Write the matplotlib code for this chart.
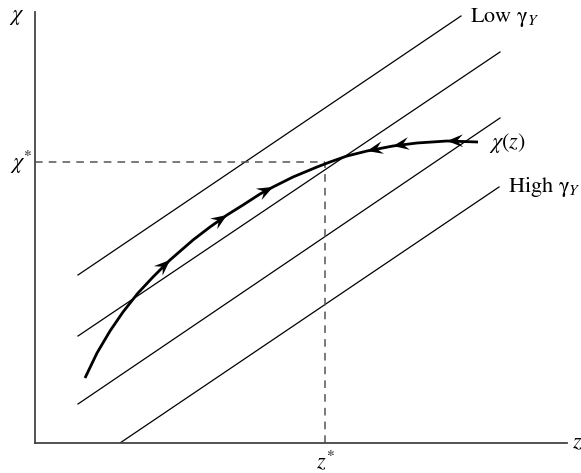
import numpy as np
import matplotlib
matplotlib.use('Agg')
import matplotlib.pyplot as plt
from matplotlib.patches import Polygon

plt.rcParams['font.family'] = 'serif'
plt.rcParams['font.serif'] = ['STIXGeneral', 'DejaVu Serif']
plt.rcParams['mathtext.fontset'] = 'stix'

# chi(z) curve (x = z, y = chi)
curve_z = [50, 62, 75, 88, 103, 118, 135, 158, 175, 192, 208, 225, 238, 258, 282, 295, 312, 332, 358, 382, 412, 443]
curve_chi = [65, 90, 112, 131, 150, 166, 183, 203, 216, 228, 238, 249, 256, 266, 276, 281, 287, 292, 297, 300, 302, 301]

# arrow heads: curve index, +1 = pointing right, -1 = pointing left
arrow_idx = [6, 9, 12, 17, 18, 20]
arrow_dir = [1, 1, 1, -1, -1, -1]

# the four parallel lines (start and end points)
lines_z0 = [43, 43, 43, 85]
lines_c0 = [168, 107, 39, 0]
lines_z1 = [426, 465, 465, 464]
lines_c1 = [427, 391, 325, 256]

z_star = 290
chi_star = 281

fig = plt.figure(figsize=(5.81, 4.73), dpi=100)
ax = fig.add_axes([35/581, 30/473, 532/581, 431/473])
ax.set_xlim(0, 532)
ax.set_ylim(0, 431)
for s in ['top', 'right']:
    ax.spines[s].set_visible(False)
for s in ['left', 'bottom']:
    ax.spines[s].set_color('#444444')
    ax.spines[s].set_linewidth(1.3)
ax.set_xticks([])
ax.set_yticks([])

for i in range(4):
    ax.plot([lines_z0[i], lines_z1[i]], [lines_c0[i], lines_c1[i]], color='black', lw=0.9)

ax.plot([0, z_star], [chi_star, chi_star], color='#555555', lw=1.1, dashes=(5, 4))
ax.plot([z_star, z_star], [0, chi_star], color='#555555', lw=1.1, dashes=(5, 4))

ax.plot(curve_z, curve_chi, color='black', lw=2.0, solid_capstyle='butt', solid_joinstyle='round')

# stealth-like arrow heads (axes units are pixels, so no aspect issue)
head = np.array([[0, 0], [-1, 0.4], [-0.62, 0], [-1, -0.4]]) * 16
for i, d in zip(arrow_idx, arrow_dir):
    dx = (curve_z[i+1] - curve_z[i-1]) * d
    dy = (curve_chi[i+1] - curve_chi[i-1]) * d
    a = np.arctan2(dy, dx)
    R = np.array([[np.cos(a), -np.sin(a)], [np.sin(a), np.cos(a)]])
    verts = head @ R.T + [curve_z[i], curve_chi[i]]
    ax.add_patch(Polygon(verts, closed=True, facecolor='black', edgecolor='none', zorder=3))

fs = 16
ax.text(-18, 426, r'$\chi$', fontsize=fs, ha='center', va='center', clip_on=False)
ax.text(-14, 281, r'$\chi^{*}$', fontsize=fs, ha='center', va='center', clip_on=False)
ax.text(z_star, -18, r'$z^{*}$', fontsize=fs, ha='center', va='center', clip_on=False)
ax.text(542, 0, r'$z$', fontsize=fs, ha='center', va='center', clip_on=False)
ax.text(454, 300, r'$\chi(z)$', fontsize=fs, ha='left', va='center', clip_on=False)
ax.text(435, 426, r'Low γ$_{Y}$', fontsize=fs, ha='left', va='center', clip_on=False)
ax.text(473, 256, r'High γ$_{Y}$', fontsize=fs, ha='left', va='center', clip_on=False)

fig.savefig('out.png', dpi=100)
